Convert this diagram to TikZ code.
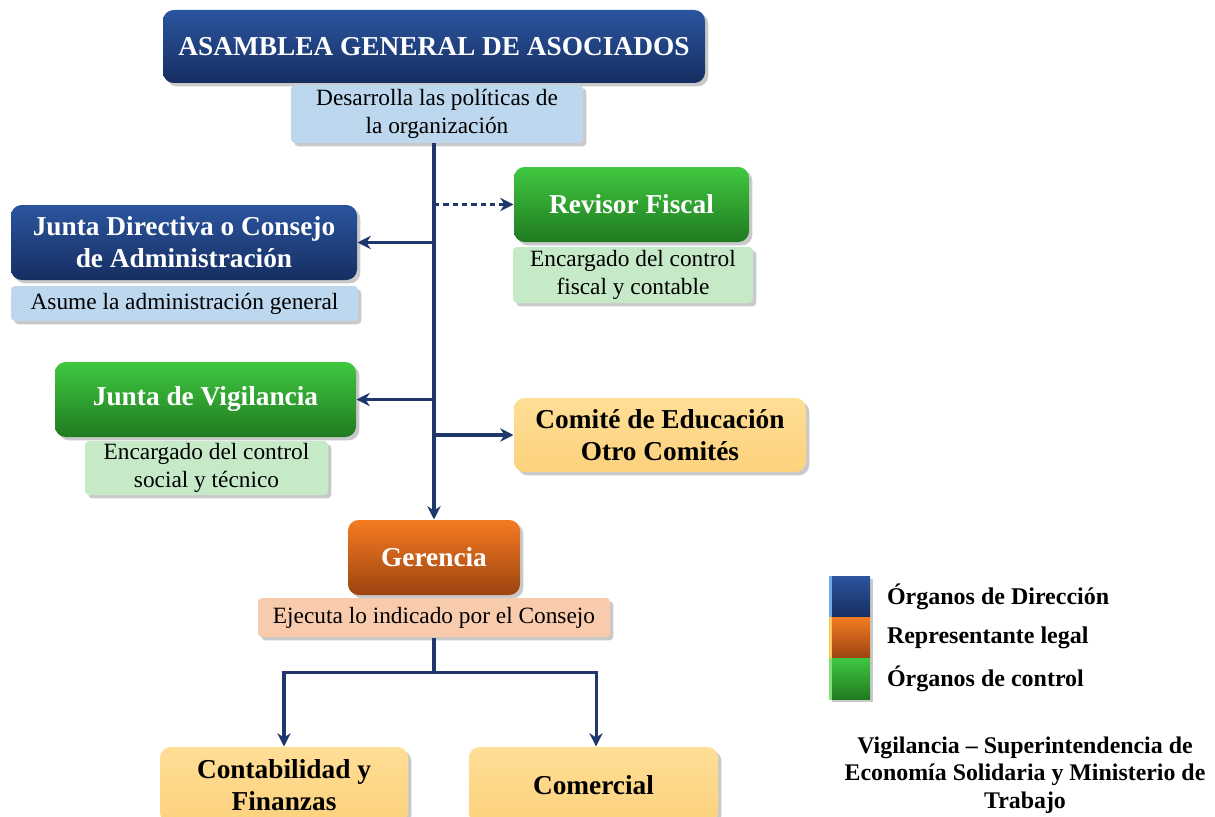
\documentclass[tikz,border=0pt]{standalone}
\usepackage{fontspec}
\setmainfont{Liberation Serif}
\usetikzlibrary{arrows.meta,shadows,positioning}

\definecolor{linkcol}{RGB}{31,56,108}
\definecolor{dirtop}{RGB}{43,85,158}
\definecolor{dirbot}{RGB}{22,46,98}
\definecolor{dirlight}{RGB}{110,170,230}
\definecolor{ctrltop}{RGB}{64,200,64}
\definecolor{ctrlbot}{RGB}{32,122,32}
\definecolor{ctrllight}{RGB}{130,225,120}
\definecolor{reptop}{RGB}{244,123,34}
\definecolor{repbot}{RGB}{156,68,16}
\definecolor{replight}{RGB}{250,200,90}
\definecolor{areatop}{RGB}{255,222,150}
\definecolor{areabot}{RGB}{252,210,125}
\definecolor{descdir}{RGB}{189,215,238}
\definecolor{descctrl}{RGB}{198,234,200}
\definecolor{descrep}{RGB}{248,203,173}

\tikzset{every picture/.style={line width=0.75pt}}
\tikzset{
  softshadow/.style={drop shadow={shadow xshift=2.5pt,shadow yshift=-2.5pt,opacity=0.3,fill=black!70}},
  headbox/.style={rounded corners=8pt,minimum height=56.25pt,align=center,inner sep=2pt,
    text=white,font=\fontsize{20.5}{24}\selectfont\bfseries,softshadow},
  dirbox/.style={headbox,top color=dirtop,bottom color=dirbot},
  ctrlbox/.style={headbox,top color=ctrltop,bottom color=ctrlbot},
  repbox/.style={headbox,top color=reptop,bottom color=repbot},
  areabox/.style={headbox,text=black,top color=areatop,bottom color=areabot},
  descbox/.style={rounded corners=3pt,align=center,inner sep=1pt,
    font=\fontsize{17.5}{21}\selectfont,softshadow},
  legsq/.style={minimum size=30.75pt,inner sep=0pt,softshadow},
  legtext/.style={inner sep=0pt,font=\fontsize{18}{21}\selectfont\bfseries},
  link/.style={draw=linkcol,line width=2.3pt},
  arr/.style={link,-{Stealth[length=10pt,width=10pt]}},
}

\begin{document}
\begin{tikzpicture}[x=0.75pt,y=0.75pt,yscale=-1,xscale=1]
	\useasboundingbox (0,0) rectangle (1215,817);
	\clip (0,0) rectangle (1215,817);

	%Shape: Assembly
	\node (asam) at (434,46.5) [dirbox,minimum width=406.5pt,minimum height=54.75pt] {ASAMBLEA GENERAL DE ASOCIADOS};
	\node (desA) at (437,114) [descbox,fill=descdir,minimum width=219pt,minimum height=43.5pt] {Desarrolla las políticas de\\la organización};

	%Shape: Manager
	\node (ger) at (434,557.5) [repbox,minimum width=129pt] {Gerencia};
	\node (desG) at (434,617.5) [descbox,fill=descrep,minimum width=264pt,minimum height=29.25pt] {Ejecuta lo indicado por el Consejo};

	%Straight Lines: spine
	\draw [arr] (ger.north |- desA.south) -- (ger.north);

	%Shape: Fiscal reviewer
	\node (rev) at (631.5,204.5) [ctrlbox,minimum width=176.25pt] {Revisor Fiscal};
	\node (desR) at (633,275) [descbox,fill=descctrl,minimum width=180pt,minimum height=42pt] {Encargado del control\\fiscal y contable};
	\draw [arr,dash pattern=on 4pt off 3pt] (ger.north |- rev.west) -- (rev.west);

	%Shape: Board
	\node (jd) at (184,242.5) [dirbox,minimum width=259.5pt] {Junta Directiva o Consejo\\de Administración};
	\node (desJ) at (184.5,303.5) [descbox,fill=descdir,minimum width=260.25pt,minimum height=26.25pt] {Asume la administración general};
	\draw [arr] (ger.north |- jd.east) -- (jd.east);

	%Shape: Supervisory board
	\node (jv) at (205.5,399.5) [ctrlbox,minimum width=225.75pt] {Junta de Vigilancia};
	\node (desV) at (206.5,468) [descbox,fill=descctrl,minimum width=182.25pt,minimum height=40.5pt] {Encargado del control\\social y técnico};
	\draw [arr] (ger.north |- jv.east) -- (jv.east);

	%Shape: Committees
	\node (com) at (660,435) [areabox,minimum width=219pt,minimum height=55.5pt] {Comité de Educación\\Otro Comités};
	\draw [arr] (ger.north |- com.west) -- (com.west);

	%Shape: Areas
	\node (cont) at (284,785) [areabox,minimum width=186pt,minimum height=57pt] {Contabilidad y\\Finanzas};
	\node (comer) at (593.5,785) [areabox,minimum width=186.75pt,minimum height=57pt] {Comercial};
	\draw [link] (desG.south) -- ++(0,35) coordinate (split);
	\draw [arr] (split) -| (cont.north);
	\draw [arr] (split) -| ([xshift=1.9pt]comer.north);

	%Legend
	\node (lgdir) at (849.5,596.5) [legsq,top color=dirtop,bottom color=dirbot] {};
	\node (lgrep) at (849.5,637.5) [legsq,top color=reptop,bottom color=repbot] {};
	\node (lgctrl) at (849.5,678.5) [legsq,top color=ctrltop,bottom color=ctrlbot] {};
	\fill [dirlight] (lgdir.north west) rectangle ([xshift=2.5pt]lgdir.south west);
	\fill [replight] (lgrep.north west) rectangle ([xshift=2.5pt]lgrep.south west);
	\fill [ctrllight] (lgctrl.north west) rectangle ([xshift=2.5pt]lgctrl.south west);
	\node (lbdir) [legtext,right=12pt of lgdir] {Órganos de Dirección};
	\node (lbrep) [legtext,right=12pt of lgrep] {Representante legal};
	\node (lbctrl) [legtext,right=12pt of lgctrl] {Órganos de control};

	% Text Node
	\node (nota) at (1025,775) [align=center,font=\fontsize{17.9}{20.5}\selectfont\bfseries] {Vigilancia – Superintendencia de\\Economía Solidaria y Ministerio de\\Trabajo};

\end{tikzpicture}
\end{document}
